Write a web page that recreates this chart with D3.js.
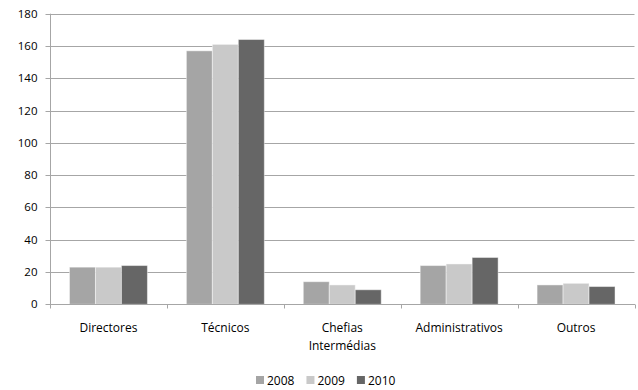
<!DOCTYPE html>
<html>
<head>
<meta charset="utf-8">
<script src="https://cdn.jsdelivr.net/npm/d3@7"></script>
<style>
  html, body { margin: 0; padding: 0; background: #fff; }
  svg { display: block; font-family: "Open Sans", "Liberation Sans", sans-serif; }
</style>
</head>
<body>
<svg id="chart" width="638" height="390"></svg>
<script>
// Staff by professional group, 2008–2010
const categories = ["Directores", "Técnicos", "Chefias Intermédias", "Administrativos", "Outros"];
const years = ["2008", "2009", "2010"];
const values2008 = [23, 157, 14, 24, 12];
const values2009 = [23, 161, 12, 25, 13];
const values2010 = [24, 164, 9, 29, 11];
const yTicks = [0, 20, 40, 60, 80, 100, 120, 140, 160, 180];
const colors = ["#a5a5a5", "#c9c9c9", "#666666"];

const series = [values2008, values2009, values2010];

const svg = d3.select("#chart");
const margin = { left: 50, right: 3.5, top: 13.7, bottom: 85.7 };
const W = 638, H = 390;
const x0 = margin.left, x1 = W - margin.right;
const yTop = margin.top, yBot = H - margin.bottom;

const x = d3.scaleBand().domain(categories).range([x0, x1]).paddingInner(0).paddingOuter(0);
const y = d3.scaleLinear().domain([0, 180]).range([yBot, yTop]);

// bar width: gap between groups equals 1.5 bar widths
const bw = x.bandwidth() / 4.5;
const xs = d3.scaleBand().domain(years).range([0.75 * bw, 3.75 * bw]).padding(0);

const gridColor = "#a6a6a6";
const tickFont = 11.5;
const labelFont = 12;

// horizontal gridlines
svg.append("g")
  .selectAll("line")
  .data(yTicks.filter(d => d > 0))
  .join("line")
  .attr("x1", x0).attr("x2", x1)
  .attr("y1", d => Math.round(y(d)) + 0.5).attr("y2", d => Math.round(y(d)) + 0.5)
  .attr("stroke", gridColor).attr("stroke-width", 1);

// y axis
const yAxis = svg.append("g")
  .attr("transform", `translate(${x0 + 0.5},0)`)
  .call(d3.axisLeft(y).tickValues(yTicks).tickSize(5).tickPadding(8).tickFormat(d3.format("d")));
yAxis.select(".domain").attr("stroke", gridColor).attr("d", `M0,${yTop}V${yBot}`);
yAxis.selectAll(".tick line").attr("stroke", gridColor);
yAxis.selectAll(".tick").attr("transform", d => `translate(0,${Math.round(y(d)) + 0.5})`);
yAxis.selectAll("text").attr("font-size", tickFont).attr("fill", "#000")
  .attr("font-family", "'Open Sans', 'Liberation Sans', sans-serif");

// bars
const groups = svg.append("g")
  .selectAll("g")
  .data(categories)
  .join("g")
  .attr("transform", d => `translate(${x(d)},0)`);

groups.selectAll("rect")
  .data((c, i) => years.map((yr, s) => ({ yr, s, v: series[s][i] })))
  .join("rect")
  .attr("x", d => xs(d.yr))
  .attr("width", xs.bandwidth())
  .attr("y", d => y(d.v))
  .attr("height", d => yBot - y(d.v))
  .attr("fill", d => colors[d.s])
  .attr("stroke", "rgba(255,255,255,0.45)")
  .attr("stroke-width", 1);

// x axis
const xAxis = svg.append("g").attr("transform", `translate(0,${Math.round(yBot) + 0.5})`);
xAxis.append("line").attr("x1", x0).attr("x2", x1 + 0.5).attr("stroke", gridColor);
const bounds = categories.map(c => x(c)).concat([x1]);
xAxis.selectAll("line.tk")
  .data(bounds)
  .join("line")
  .attr("class", "tk")
  .attr("x1", d => Math.round(d) + 0.5).attr("x2", d => Math.round(d) + 0.5)
  .attr("y1", 0).attr("y2", 4)
  .attr("stroke", gridColor);

// category labels, wrapped when wider than the slot
const maxW = 100;
const labels = svg.append("g").attr("font-size", labelFont).attr("fill", "#000").attr("text-anchor", "middle");
categories.forEach(c => {
  const cx = x(c) + x.bandwidth() / 2;
  const t = labels.append("text").attr("x", cx).attr("y", 332);
  const words = c.split(" ");
  let line = [];
  let tspan = t.append("tspan").attr("x", cx).attr("dy", 0);
  words.forEach(w => {
    line.push(w);
    tspan.text(line.join(" "));
    if (tspan.node().getComputedTextLength() > maxW && line.length > 1) {
      line.pop();
      tspan.text(line.join(" "));
      line = [w];
      tspan = t.append("tspan").attr("x", cx).attr("dy", 18).text(w);
    }
  });
});

// legend
const legend = svg.append("g").attr("font-size", labelFont);
let lx = 256;
years.forEach((yr, i) => {
  legend.append("rect").attr("x", lx).attr("y", 376).attr("width", 8).attr("height", 8).attr("fill", colors[i]);
  const t = legend.append("text").attr("x", lx + 11).attr("y", 384.5).attr("fill", "#000").text(yr);
  lx += 11 + t.node().getComputedTextLength() + 12;
});
</script>
</body>
</html>
